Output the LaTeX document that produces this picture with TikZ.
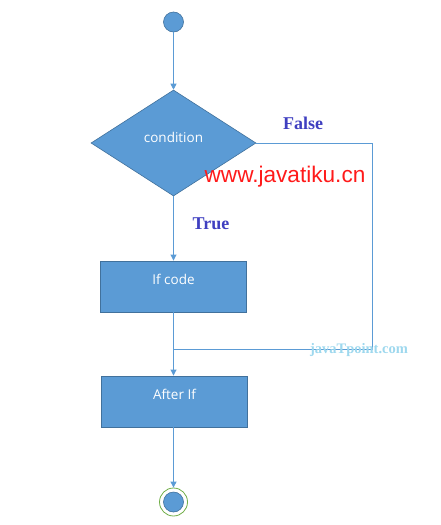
\documentclass[tikz,border=0pt]{standalone}
\usepackage{fontspec}
\setmainfont{Open Sans}
\newfontfamily\serifb{Liberation Serif}
\newfontfamily\arialf{Liberation Sans}
\usetikzlibrary{shapes.geometric,arrows.meta}
\definecolor{boxfill}{HTML}{5B9BD5}
\definecolor{boxdraw}{HTML}{41719C}
\definecolor{ringgreen}{HTML}{70AD47}
\definecolor{lblblue}{HTML}{3F3FC0}
\definecolor{wmblue}{HTML}{9ED8EE}
\definecolor{wmred}{HTML}{FF1A1A}
\tikzset{
  flowline/.style={draw=boxfill, line width=0.9pt},
  arr/.style={flowline, -{Triangle[width=6pt,length=6pt]}},
  procbox/.style={rectangle, fill=boxfill, draw=boxdraw, line width=0.9pt, minimum width=146pt, minimum height=51pt, inner sep=0pt},
  boxtext/.style={text=white, font=\fontsize{13.5}{15}\selectfont, inner sep=0pt},
  decision/.style={diamond, fill=boxfill, draw=boxdraw, line width=0.6pt, minimum width=165pt, minimum height=106pt, inner sep=0pt, aspect=1.557},
  dot/.style={circle, fill=boxfill, draw=boxdraw, line width=0.6pt, minimum size=20pt, inner sep=0pt},
  branchlbl/.style={text=lblblue, font=\serifb\bfseries\fontsize{18}{20}\selectfont, inner sep=0pt},
}
\begin{document}
\begin{tikzpicture}[x=1pt,y=-1pt]
\useasboundingbox (0,0) rectangle (440,525);
\node[dot] (start) at (173.5,22) {};
\node[decision] (cond) at (173.5,143) {};
\node[boxtext] (condt) at (173.5,137) {condition};
\node[procbox] (ifcode) at (173.5,286.5) {};
\node[boxtext] (ifcodet) at (173.5,279) {If code};
\node[procbox] (after) at (174.5,401.5) {};
\node[boxtext] (aftert) at (174.5,394) {After If};
\node[circle, draw=ringgreen, line width=0.8pt, minimum size=28pt, inner sep=0pt] (endring) at (173.5,502) {};
\node[dot] (end) at (173.5,502) {};
\coordinate (fcorner) at (372,349);
\coordinate (merge) at (174,349);
\draw[arr] (start) -- (cond.north);
\draw[arr] (cond.south) -- (ifcode.north);
\draw[arr] (ifcode.south) -- (ifcode.south |- after.north);
\draw[flowline] (cond.east) -| (fcorner) -- (merge);
\draw[arr] (after.south -| endring) -- (endring.north);
\node[branchlbl] (falsel) at (303,123) {False};
\node[branchlbl] (truel) at (211,224) {True};
\node[text=wmred, font=\arialf\fontsize{22.6}{24}\selectfont, inner sep=0pt] (wm1) at (285,177) {www.javatiku.cn};
\node[text=wmblue, font=\serifb\bfseries\fontsize{14.5}{16}\selectfont, inner sep=0pt] (wm2) at (359,350) {javaTpoint.com};
\end{tikzpicture}
\end{document}
